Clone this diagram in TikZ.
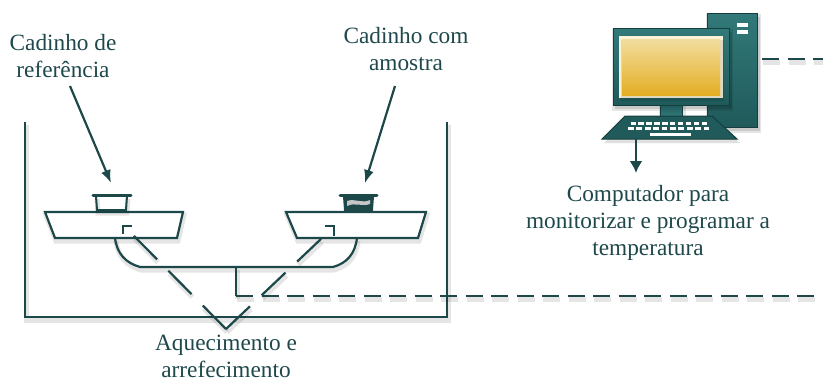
\documentclass[tikz,border=0pt]{standalone}
\usepackage{fontspec}
\setmainfont{Liberation Serif}
\usetikzlibrary{arrows.meta}
\definecolor{ink}{RGB}{28,72,74}
\definecolor{txt}{RGB}{30,72,75}
\definecolor{tealA}{RGB}{50,121,121}
\definecolor{tealB}{RGB}{32,90,91}
\definecolor{tealD}{RGB}{22,62,63}
\definecolor{cream}{RGB}{250,242,214}
\definecolor{goldA}{RGB}{242,221,158}
\definecolor{goldB}{RGB}{228,174,36}
\begin{document}
\begin{tikzpicture}[x=1pt,y=-1pt,
  every node/.style={inner sep=0pt, text=txt, align=center,
    font=\fontsize{23.3}{26.6}\selectfont},
  wire/.style={draw=ink, line width=2.2pt},
  shade/.style={preaction={draw=black, draw opacity=.10, line width=5pt,
    transform canvas={xshift=1pt,yshift=-3pt}}},
  longdash/.style={dash pattern=on 33pt off 16pt},
  shortdash/.style={dash pattern=on 17pt off 8.5pt},
  longshade/.style={preaction={draw=black, draw opacity=.10, line width=5pt,
    longdash, transform canvas={xshift=1pt,yshift=-3pt}}},
  shortshade/.style={preaction={draw=black, draw opacity=.10, line width=5pt,
    shortdash, transform canvas={xshift=1pt,yshift=-3pt}}},
  pointer/.style={wire, -{Latex[length=13pt,width=10pt]}},
]
\useasboundingbox (0,0) rectangle (823,381);

% ---------- furnace enclosure ----------
\draw[wire, shade] (25,122) -- (25,317) -- (447,317) -- (447,122);

% ---------- sample holders (trays) ----------
\draw[wire, shade, fill=white] (45,212) -- (183,212) -- (177,238) -- (55,238) -- cycle;
\draw[wire, shade, fill=white] (286,212) -- (426,212) -- (418,238) -- (297,238) -- cycle;

% reference crucible
\draw[wire, line width=2pt, shade] (96,196) -- (97,210) -- (126,210) -- (127,196);
\draw[ink, line width=3pt, line cap=round] (93,195.5) -- (131,195.5);
% sample crucible
\fill[ink] (344,196) -- (345,210) -- (372,210) -- (373,196) -- cycle;
\fill[gray!45] (347,201) .. controls (355,198) and (362,204) .. (370,200)
  -- (370,204) .. controls (362,207) and (355,202) .. (347,206) -- cycle;
\draw[wire, line width=2pt] (344,196) -- (345,210) -- (372,210) -- (373,196);
\draw[ink, line width=3pt, line cap=round] (340,195.5) -- (377,195.5);

% thermocouple junctions
\draw[wire] (123,234) -- (123,226) -- (132,226);
\draw[wire] (325,226) -- (334,226) -- (334,236);

% support and signal stem
\coordinate (stemtop) at (236,267);
\coordinate (stemfoot) at (236,296);
\draw[wire, shade] (115,238) .. controls (117,254) and (126,263) .. (140,267)
  -- (333,267) .. controls (347,263) and (355,254) .. (357,238);
\draw[wire, shade] (stemtop) -- (stemfoot);

% heating / cooling lines
\coordinate (heat) at (226,329);
\coordinate (heatL) at (133,235);
\coordinate (heatR) at (322,238);
\draw[wire, longdash, longshade] (heat) -- (heatL);
\draw[wire, longdash, longshade] (heat) -- (heatR);

% signal line to computer
\coordinate (sigend) at (823,296);
\draw[wire, shortdash, shortshade] (stemfoot) -- (sigend);

% ---------- computer ----------
\coordinate (pcport) at (762,59);
\coordinate (pcend) at (823,59);
\draw[wire, shortdash, shortshade] (pcport) -- (pcend);

% tower
\fill[black, opacity=.12] (709,17) rectangle (760,131);
\shade[top color=tealA, bottom color=tealB, draw=tealD, line width=1pt]
  (707,13) rectangle (757,127);
\fill[white] (737,23) rectangle (748,27);
\fill[white] (737,30) rectangle (748,34);
% monitor
\fill[black, opacity=.12] (615,32) rectangle (732,109);
\shade[top color=tealA, bottom color=tealB, draw=tealD, line width=1pt]
  (613,28) rectangle (729,105);
\fill[cream] (619,36) rectangle (723,98);
\shade[top color=goldA, bottom color=goldB] (622,39) rectangle (720,95);
% neck
\shade[top color=tealB, bottom color=tealA, draw=tealD, line width=0.8pt]
  (660,105) rectangle (682,116);
% keyboard
\fill[black, opacity=.12] (627,120) -- (714,120) -- (740,143) -- (604,143) -- cycle;
\draw[fill=tealB, draw=tealD, line width=1pt]
  (625,116) -- (712,116) -- (737,139) -- (602,139) -- cycle;
\foreach \i in {0,...,9} {
  \fill[white] (630.5+\i*7.9,122.3) rectangle ++(5.4,2.6);
  \fill[white] (628+\i*8.4,127) rectangle ++(5.8,2.6);
}
\fill[white] (650,133) rectangle (691,136);
\coordinate (kbd) at (636,139);

% ---------- labels (base = baseline of the last line) ----------
\node[anchor=base] (reflabel) at (63,77) {Cadinho de\\referência};
\node[anchor=base] (samplabel) at (406,70) {Cadinho com\\amostra};
\node[anchor=base] (pclabel) at (648,255) {Computador para\\monitorizar e programar a\\temperatura};
\node[anchor=base] (heatlabel) at (226,377) {Aquecimento e\\arrefecimento};

% pointers
\coordinate (refarrow) at (70,86);
\coordinate (reftip) at (111,183);
\coordinate (samparrow) at (395,86);
\coordinate (samptip) at (365,183);
\draw[pointer] (refarrow) -- (reftip);
\draw[pointer] (samparrow) -- (samptip);
\coordinate (pctip) at (636,173);
\draw[wire, -{Latex[length=12pt,width=13pt]}] (kbd) -- (pctip);
\end{tikzpicture}
\end{document}
